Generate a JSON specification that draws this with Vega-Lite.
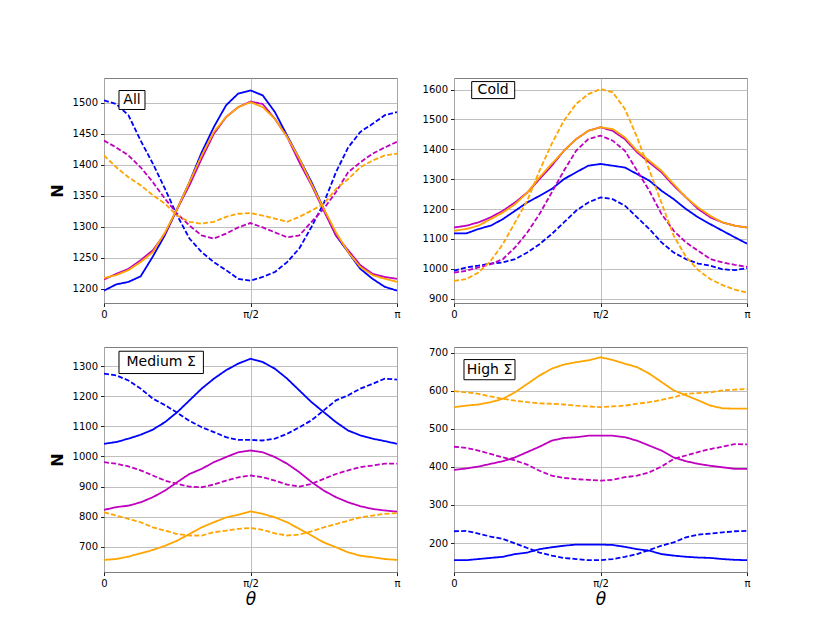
{
  "$schema": "https://vega.github.io/schema/vega-lite/v6.json",
  "padding": {"left": 48, "top": 77, "right": 5, "bottom": 5},
  "background": "white",
  "datasets": {
    "curves": [
      {"p": "All", "t": 0, "bs": 1197, "bd": 1504, "ms": 1215, "md": 1439, "os": 1217, "od": 1415},
      {"p": "All", "t": 0.1309, "bs": 1207, "bd": 1498, "ms": 1224, "md": 1428, "os": 1222, "od": 1396},
      {"p": "All", "t": 0.2618, "bs": 1211, "bd": 1480, "ms": 1232, "md": 1415, "os": 1230, "od": 1380},
      {"p": "All", "t": 0.3927, "bs": 1220, "bd": 1439, "ms": 1246, "md": 1396, "os": 1243, "od": 1367},
      {"p": "All", "t": 0.5236, "bs": 1252, "bd": 1402, "ms": 1262, "md": 1372, "os": 1259, "od": 1351},
      {"p": "All", "t": 0.6545, "bs": 1287, "bd": 1361, "ms": 1289, "md": 1345, "os": 1291, "od": 1337},
      {"p": "All", "t": 0.7854, "bs": 1329, "bd": 1318, "ms": 1329, "md": 1321, "os": 1329, "od": 1318},
      {"p": "All", "t": 0.9163, "bs": 1372, "bd": 1281, "ms": 1367, "md": 1302, "os": 1372, "od": 1308},
      {"p": "All", "t": 1.0472, "bs": 1420, "bd": 1259, "ms": 1410, "md": 1286, "os": 1415, "od": 1305},
      {"p": "All", "t": 1.1781, "bs": 1461, "bd": 1243, "ms": 1450, "md": 1281, "os": 1453, "od": 1308},
      {"p": "All", "t": 1.309, "bs": 1496, "bd": 1230, "ms": 1477, "md": 1289, "os": 1477, "od": 1316},
      {"p": "All", "t": 1.4399, "bs": 1515, "bd": 1216, "ms": 1493, "md": 1299, "os": 1493, "od": 1321},
      {"p": "All", "t": 1.5708, "bs": 1520, "bd": 1213, "ms": 1502, "md": 1306, "os": 1501, "od": 1322},
      {"p": "All", "t": 1.7017, "bs": 1512, "bd": 1219, "ms": 1498, "md": 1299, "os": 1493, "od": 1318},
      {"p": "All", "t": 1.8326, "bs": 1485, "bd": 1227, "ms": 1474, "md": 1291, "os": 1474, "od": 1313},
      {"p": "All", "t": 1.9635, "bs": 1447, "bd": 1243, "ms": 1445, "md": 1283, "os": 1445, "od": 1308},
      {"p": "All", "t": 2.0944, "bs": 1410, "bd": 1265, "ms": 1404, "md": 1286, "os": 1410, "od": 1316},
      {"p": "All", "t": 2.2253, "bs": 1372, "bd": 1300, "ms": 1367, "md": 1308, "os": 1369, "od": 1326},
      {"p": "All", "t": 2.3562, "bs": 1329, "bd": 1338, "ms": 1326, "md": 1329, "os": 1329, "od": 1337},
      {"p": "All", "t": 2.4871, "bs": 1286, "bd": 1388, "ms": 1286, "md": 1356, "os": 1291, "od": 1361},
      {"p": "All", "t": 2.618, "bs": 1259, "bd": 1428, "ms": 1262, "md": 1388, "os": 1259, "od": 1377},
      {"p": "All", "t": 2.7489, "bs": 1232, "bd": 1453, "ms": 1238, "md": 1404, "os": 1235, "od": 1396},
      {"p": "All", "t": 2.8798, "bs": 1216, "bd": 1466, "ms": 1224, "md": 1418, "os": 1222, "od": 1407},
      {"p": "All", "t": 3.0107, "bs": 1203, "bd": 1480, "ms": 1219, "md": 1428, "os": 1216, "od": 1415},
      {"p": "All", "t": 3.1416, "bs": 1197, "bd": 1485, "ms": 1216, "md": 1437, "os": 1211, "od": 1418},

      {"p": "Cold", "t": 0, "bs": 1118, "bd": 993, "ms": 1138, "md": 987, "os": 1127, "od": 959},
      {"p": "Cold", "t": 0.1309, "bs": 1118, "bd": 1004, "ms": 1144, "md": 993, "os": 1133, "od": 965},
      {"p": "Cold", "t": 0.2618, "bs": 1133, "bd": 1010, "ms": 1155, "md": 1004, "os": 1144, "od": 987},
      {"p": "Cold", "t": 0.3927, "bs": 1144, "bd": 1017, "ms": 1172, "md": 1015, "os": 1166, "od": 1026},
      {"p": "Cold", "t": 0.5236, "bs": 1166, "bd": 1021, "ms": 1194, "md": 1032, "os": 1188, "od": 1082},
      {"p": "Cold", "t": 0.6545, "bs": 1194, "bd": 1032, "ms": 1222, "md": 1071, "os": 1216, "od": 1155},
      {"p": "Cold", "t": 0.7854, "bs": 1222, "bd": 1054, "ms": 1255, "md": 1121, "os": 1255, "od": 1228},
      {"p": "Cold", "t": 0.9163, "bs": 1244, "bd": 1082, "ms": 1300, "md": 1183, "os": 1306, "od": 1328},
      {"p": "Cold", "t": 1.0472, "bs": 1267, "bd": 1116, "ms": 1345, "md": 1255, "os": 1351, "od": 1418},
      {"p": "Cold", "t": 1.1781, "bs": 1300, "bd": 1155, "ms": 1395, "md": 1328, "os": 1395, "od": 1496},
      {"p": "Cold", "t": 1.309, "bs": 1323, "bd": 1194, "ms": 1434, "md": 1395, "os": 1434, "od": 1552},
      {"p": "Cold", "t": 1.4399, "bs": 1345, "bd": 1222, "ms": 1462, "md": 1434, "os": 1462, "od": 1585},
      {"p": "Cold", "t": 1.5708, "bs": 1351, "bd": 1239, "ms": 1474, "md": 1446, "os": 1474, "od": 1602},
      {"p": "Cold", "t": 1.7017, "bs": 1345, "bd": 1233, "ms": 1462, "md": 1429, "os": 1468, "od": 1591},
      {"p": "Cold", "t": 1.8326, "bs": 1339, "bd": 1211, "ms": 1434, "md": 1395, "os": 1440, "od": 1535},
      {"p": "Cold", "t": 1.9635, "bs": 1317, "bd": 1172, "ms": 1390, "md": 1328, "os": 1395, "od": 1440},
      {"p": "Cold", "t": 2.0944, "bs": 1295, "bd": 1133, "ms": 1356, "md": 1261, "os": 1362, "od": 1330},
      {"p": "Cold", "t": 2.2253, "bs": 1261, "bd": 1088, "ms": 1323, "md": 1183, "os": 1328, "od": 1220},
      {"p": "Cold", "t": 2.3562, "bs": 1233, "bd": 1054, "ms": 1278, "md": 1127, "os": 1283, "od": 1110},
      {"p": "Cold", "t": 2.4871, "bs": 1200, "bd": 1032, "ms": 1239, "md": 1088, "os": 1239, "od": 1040},
      {"p": "Cold", "t": 2.618, "bs": 1172, "bd": 1017, "ms": 1200, "md": 1060, "os": 1205, "od": 995},
      {"p": "Cold", "t": 2.7489, "bs": 1149, "bd": 1010, "ms": 1172, "md": 1032, "os": 1177, "od": 965},
      {"p": "Cold", "t": 2.8798, "bs": 1127, "bd": 998, "ms": 1155, "md": 1021, "os": 1155, "od": 945},
      {"p": "Cold", "t": 3.0107, "bs": 1105, "bd": 995, "ms": 1144, "md": 1013, "os": 1144, "od": 930},
      {"p": "Cold", "t": 3.1416, "bs": 1084, "bd": 1002, "ms": 1138, "md": 1006, "os": 1138, "od": 920},

      {"p": "Medium", "t": 0, "bs": 1042, "bd": 1275, "ms": 823, "md": 981, "os": 657, "od": 815},
      {"p": "Medium", "t": 0.1309, "bs": 1048, "bd": 1269, "ms": 832, "md": 976, "os": 660, "od": 804},
      {"p": "Medium", "t": 0.2618, "bs": 1059, "bd": 1252, "ms": 837, "md": 967, "os": 668, "od": 793},
      {"p": "Medium", "t": 0.3927, "bs": 1072, "bd": 1225, "ms": 848, "md": 954, "os": 679, "od": 782},
      {"p": "Medium", "t": 0.5236, "bs": 1089, "bd": 1192, "ms": 865, "md": 937, "os": 690, "od": 765},
      {"p": "Medium", "t": 0.6545, "bs": 1114, "bd": 1170, "ms": 887, "md": 920, "os": 704, "od": 754},
      {"p": "Medium", "t": 0.7854, "bs": 1147, "bd": 1145, "ms": 915, "md": 909, "os": 721, "od": 743},
      {"p": "Medium", "t": 0.9163, "bs": 1186, "bd": 1118, "ms": 942, "md": 900, "os": 743, "od": 738},
      {"p": "Medium", "t": 1.0472, "bs": 1225, "bd": 1097, "ms": 959, "md": 898, "os": 765, "od": 738},
      {"p": "Medium", "t": 1.1781, "bs": 1258, "bd": 1081, "ms": 981, "md": 907, "os": 782, "od": 749},
      {"p": "Medium", "t": 1.309, "bs": 1286, "bd": 1064, "ms": 998, "md": 920, "os": 798, "od": 754},
      {"p": "Medium", "t": 1.4399, "bs": 1308, "bd": 1055, "ms": 1014, "md": 931, "os": 807, "od": 760},
      {"p": "Medium", "t": 1.5708, "bs": 1324, "bd": 1055, "ms": 1020, "md": 937, "os": 818, "od": 763},
      {"p": "Medium", "t": 1.7017, "bs": 1313, "bd": 1053, "ms": 1014, "md": 931, "os": 810, "od": 757},
      {"p": "Medium", "t": 1.8326, "bs": 1291, "bd": 1059, "ms": 998, "md": 920, "os": 798, "od": 745},
      {"p": "Medium", "t": 1.9635, "bs": 1258, "bd": 1075, "ms": 976, "md": 907, "os": 782, "od": 738},
      {"p": "Medium", "t": 2.0944, "bs": 1219, "bd": 1097, "ms": 948, "md": 900, "os": 760, "od": 741},
      {"p": "Medium", "t": 2.2253, "bs": 1180, "bd": 1120, "ms": 915, "md": 909, "os": 738, "od": 752},
      {"p": "Medium", "t": 2.3562, "bs": 1147, "bd": 1153, "ms": 887, "md": 926, "os": 715, "od": 765},
      {"p": "Medium", "t": 2.4871, "bs": 1114, "bd": 1186, "ms": 865, "md": 942, "os": 699, "od": 776},
      {"p": "Medium", "t": 2.618, "bs": 1086, "bd": 1203, "ms": 848, "md": 954, "os": 682, "od": 787},
      {"p": "Medium", "t": 2.7489, "bs": 1070, "bd": 1225, "ms": 835, "md": 965, "os": 671, "od": 798},
      {"p": "Medium", "t": 2.8798, "bs": 1059, "bd": 1241, "ms": 826, "md": 970, "os": 666, "od": 804},
      {"p": "Medium", "t": 3.0107, "bs": 1051, "bd": 1258, "ms": 821, "md": 976, "os": 660, "od": 810},
      {"p": "Medium", "t": 3.1416, "bs": 1042, "bd": 1255, "ms": 817, "md": 976, "os": 657, "od": 812},

      {"p": "High", "t": 0, "bs": 155, "bd": 231, "ms": 392, "md": 453, "os": 557, "od": 599},
      {"p": "High", "t": 0.1309, "bs": 155, "bd": 232, "ms": 396, "md": 450, "os": 561, "od": 596},
      {"p": "High", "t": 0.2618, "bs": 158, "bd": 225, "ms": 401, "md": 443, "os": 564, "od": 592},
      {"p": "High", "t": 0.3927, "bs": 161, "bd": 217, "ms": 408, "md": 434, "os": 570, "od": 585},
      {"p": "High", "t": 0.5236, "bs": 164, "bd": 211, "ms": 415, "md": 425, "os": 579, "od": 579},
      {"p": "High", "t": 0.6545, "bs": 171, "bd": 199, "ms": 425, "md": 417, "os": 596, "od": 574},
      {"p": "High", "t": 0.7854, "bs": 175, "bd": 187, "ms": 439, "md": 406, "os": 618, "od": 570},
      {"p": "High", "t": 0.9163, "bs": 184, "bd": 175, "ms": 453, "md": 390, "os": 640, "od": 567},
      {"p": "High", "t": 1.0472, "bs": 189, "bd": 167, "ms": 469, "md": 377, "os": 658, "od": 566},
      {"p": "High", "t": 1.1781, "bs": 193, "bd": 161, "ms": 476, "md": 371, "os": 669, "od": 564},
      {"p": "High", "t": 1.309, "bs": 196, "bd": 158, "ms": 478, "md": 368, "os": 675, "od": 561},
      {"p": "High", "t": 1.4399, "bs": 196, "bd": 155, "ms": 482, "md": 366, "os": 680, "od": 559},
      {"p": "High", "t": 1.5708, "bs": 196, "bd": 155, "ms": 482, "md": 364, "os": 688, "od": 557},
      {"p": "High", "t": 1.7017, "bs": 195, "bd": 158, "ms": 482, "md": 366, "os": 681, "od": 559},
      {"p": "High", "t": 1.8326, "bs": 190, "bd": 164, "ms": 478, "md": 373, "os": 671, "od": 561},
      {"p": "High", "t": 1.9635, "bs": 184, "bd": 171, "ms": 469, "md": 377, "os": 662, "od": 566},
      {"p": "High", "t": 2.0944, "bs": 180, "bd": 182, "ms": 456, "md": 386, "os": 645, "od": 570},
      {"p": "High", "t": 2.2253, "bs": 171, "bd": 193, "ms": 443, "md": 401, "os": 623, "od": 576},
      {"p": "High", "t": 2.3562, "bs": 167, "bd": 202, "ms": 425, "md": 421, "os": 601, "od": 583},
      {"p": "High", "t": 2.4871, "bs": 164, "bd": 215, "ms": 415, "md": 430, "os": 588, "od": 592},
      {"p": "High", "t": 2.618, "bs": 162, "bd": 222, "ms": 408, "md": 439, "os": 575, "od": 594},
      {"p": "High", "t": 2.7489, "bs": 161, "bd": 225, "ms": 403, "md": 447, "os": 561, "od": 596},
      {"p": "High", "t": 2.8798, "bs": 158, "bd": 228, "ms": 399, "md": 453, "os": 554, "od": 601},
      {"p": "High", "t": 3.0107, "bs": 156, "bd": 231, "ms": 395, "md": 460, "os": 553, "od": 603},
      {"p": "High", "t": 3.1416, "bs": 155, "bd": 232, "ms": 395, "md": 459, "os": 553, "od": 605}
    ]
  },
  "columns": 2,
  "bounds": "flush",
  "spacing": {"row": 44, "column": 57},
  "concat": [
    {
      "width": 293,
      "height": 225,
      "layer": [
        {
          "data": {"name": "curves"},
          "transform": [
            {"filter": "datum.p === 'All'"},
            {"fold": ["bs", "bd", "ms", "md", "os", "od"], "as": ["series", "n"]}
          ],
          "mark": {"type": "line", "strokeWidth": 1.8, "clip": true},
          "encoding": {
            "x": {"field": "t", "type": "quantitative", "scale": {"domain": [0, 3.14159], "nice": false},
              "axis": {"values": [0, 1.5708, 3.14159], "labelExpr": "datum.value < 0.1 ? '0' : datum.value < 2 ? 'π/2' : 'π'", "title": null}},
            "y": {"field": "n", "type": "quantitative", "scale": {"domain": [1177, 1540], "nice": false, "zero": false},
              "axis": {"values": [1200, 1250, 1300, 1350, 1400, 1450, 1500], "tickCount": 20, "format": "d", "title": "N"}},
            "color": {"field": "series", "type": "nominal", "legend": null,
              "scale": {"domain": ["bs", "bd", "ms", "md", "os", "od"], "range": ["#0000ff", "#0000ff", "#bf00bf", "#bf00bf", "#ffa500", "#ffa500"]}},
            "strokeDash": {"field": "series", "type": "nominal", "legend": null,
              "scale": {"domain": ["bs", "bd", "ms", "md", "os", "od"], "range": [[1, 0], [5, 2.2], [1, 0], [5, 2.2], [1, 0], [5, 2.2]]}}
          }
        },
        {
          "data": {"values": [{}]},
          "mark": {"type": "rect", "fill": "white", "stroke": "black", "strokeWidth": 1},
          "encoding": {"x": {"datum": 0.1608}, "x2": {"datum": 0.4396}, "y": {"datum": 1519.8}, "y2": {"datum": 1489.2}}
        },
        {
          "data": {"values": [{}]},
          "mark": {"type": "text", "text": "All", "fontSize": 14, "font": "DejaVu Sans", "align": "center", "baseline": "middle"},
          "encoding": {"x": {"datum": 0.30}, "y": {"datum": 1504.5}}
        }
      ]
    },
    {
      "width": 293,
      "height": 225,
      "layer": [
        {
          "data": {"name": "curves"},
          "transform": [
            {"filter": "datum.p === 'Cold'"},
            {"fold": ["bs", "bd", "ms", "md", "os", "od"], "as": ["series", "n"]}
          ],
          "mark": {"type": "line", "strokeWidth": 1.8, "clip": true},
          "encoding": {
            "x": {"field": "t", "type": "quantitative", "scale": {"domain": [0, 3.14159], "nice": false},
              "axis": {"values": [0, 1.5708, 3.14159], "labelExpr": "datum.value < 0.1 ? '0' : datum.value < 2 ? 'π/2' : 'π'", "title": null}},
            "y": {"field": "n", "type": "quantitative", "scale": {"domain": [885, 1639], "nice": false, "zero": false},
              "axis": {"values": [900, 1000, 1100, 1200, 1300, 1400, 1500, 1600], "tickCount": 20, "format": "d", "title": null}},
            "color": {"field": "series", "type": "nominal", "legend": null,
              "scale": {"domain": ["bs", "bd", "ms", "md", "os", "od"], "range": ["#0000ff", "#0000ff", "#bf00bf", "#bf00bf", "#ffa500", "#ffa500"]}},
            "strokeDash": {"field": "series", "type": "nominal", "legend": null,
              "scale": {"domain": ["bs", "bd", "ms", "md", "os", "od"], "range": [[1, 0], [5, 2.2], [1, 0], [5, 2.2], [1, 0], [5, 2.2]]}}
          }
        },
        {
          "data": {"values": [{}]},
          "mark": {"type": "rect", "fill": "white", "stroke": "black", "strokeWidth": 1},
          "encoding": {"x": {"datum": 0.1898}, "x2": {"datum": 0.6508}, "y": {"datum": 1627}, "y2": {"datum": 1570}}
        },
        {
          "data": {"values": [{}]},
          "mark": {"type": "text", "text": "Cold", "fontSize": 14, "font": "DejaVu Sans", "align": "center", "baseline": "middle"},
          "encoding": {"x": {"datum": 0.42}, "y": {"datum": 1598}}
        }
      ]
    },
    {
      "width": 293,
      "height": 225,
      "layer": [
        {
          "data": {"name": "curves"},
          "transform": [
            {"filter": "datum.p === 'Medium'"},
            {"fold": ["bs", "bd", "ms", "md", "os", "od"], "as": ["series", "n"]}
          ],
          "mark": {"type": "line", "strokeWidth": 1.8, "clip": true},
          "encoding": {
            "x": {"field": "t", "type": "quantitative", "scale": {"domain": [0, 3.14159], "nice": false},
              "axis": {"values": [0, 1.5708, 3.14159], "labelExpr": "datum.value < 0.1 ? '0' : datum.value < 2 ? 'π/2' : 'π'", "title": "θ"}},
            "y": {"field": "n", "type": "quantitative", "scale": {"domain": [617, 1363], "nice": false, "zero": false},
              "axis": {"values": [700, 800, 900, 1000, 1100, 1200, 1300], "tickCount": 20, "format": "d", "title": "N"}},
            "color": {"field": "series", "type": "nominal", "legend": null,
              "scale": {"domain": ["bs", "bd", "ms", "md", "os", "od"], "range": ["#0000ff", "#0000ff", "#bf00bf", "#bf00bf", "#ffa500", "#ffa500"]}},
            "strokeDash": {"field": "series", "type": "nominal", "legend": null,
              "scale": {"domain": ["bs", "bd", "ms", "md", "os", "od"], "range": [[1, 0], [5, 2.2], [1, 0], [5, 2.2], [1, 0], [5, 2.2]]}}
          }
        },
        {
          "data": {"values": [{}]},
          "mark": {"type": "rect", "fill": "white", "stroke": "black", "strokeWidth": 1},
          "encoding": {"x": {"datum": 0.1608}, "x2": {"datum": 1.0658}, "y": {"datum": 1349}, "y2": {"datum": 1275}}
        },
        {
          "data": {"values": [{}]},
          "mark": {"type": "text", "text": "Medium Σ", "fontSize": 14, "font": "DejaVu Sans", "align": "center", "baseline": "middle"},
          "encoding": {"x": {"datum": 0.613}, "y": {"datum": 1312}}
        }
      ]
    },
    {
      "width": 293,
      "height": 225,
      "layer": [
        {
          "data": {"name": "curves"},
          "transform": [
            {"filter": "datum.p === 'High'"},
            {"fold": ["bs", "bd", "ms", "md", "os", "od"], "as": ["series", "n"]}
          ],
          "mark": {"type": "line", "strokeWidth": 1.8, "clip": true},
          "encoding": {
            "x": {"field": "t", "type": "quantitative", "scale": {"domain": [0, 3.14159], "nice": false},
              "axis": {"values": [0, 1.5708, 3.14159], "labelExpr": "datum.value < 0.1 ? '0' : datum.value < 2 ? 'π/2' : 'π'", "title": "θ"}},
            "y": {"field": "n", "type": "quantitative", "scale": {"domain": [124, 715], "nice": false, "zero": false},
              "axis": {"values": [200, 300, 400, 500, 600, 700], "tickCount": 20, "format": "d", "title": null}},
            "color": {"field": "series", "type": "nominal", "legend": null,
              "scale": {"domain": ["bs", "bd", "ms", "md", "os", "od"], "range": ["#0000ff", "#0000ff", "#bf00bf", "#bf00bf", "#ffa500", "#ffa500"]}},
            "strokeDash": {"field": "series", "type": "nominal", "legend": null,
              "scale": {"domain": ["bs", "bd", "ms", "md", "os", "od"], "range": [[1, 0], [5, 2.2], [1, 0], [5, 2.2], [1, 0], [5, 2.2]]}}
          }
        },
        {
          "data": {"values": [{}]},
          "mark": {"type": "rect", "fill": "white", "stroke": "black", "strokeWidth": 1},
          "encoding": {"x": {"datum": 0.1072}, "x2": {"datum": 0.654}, "y": {"datum": 682}, "y2": {"datum": 629}}
        },
        {
          "data": {"values": [{}]},
          "mark": {"type": "text", "text": "High Σ", "fontSize": 14, "font": "DejaVu Sans", "align": "center", "baseline": "middle"},
          "encoding": {"x": {"datum": 0.381}, "y": {"datum": 655}}
        }
      ]
    }
  ],
  "config": {
    "font": "DejaVu Sans",
    "view": {"stroke": "#808080", "strokeWidth": 1},
    "axis": {
      "domain": false,
      "labelFont": "DejaVu Sans",
      "labelFontSize": 10,
      "labelColor": "#000000",
      "labelFlush": false,
      "labelPadding": 3,
      "tickSize": 3.5,
      "tickColor": "#222222",
      "gridColor": "#b0b0b0",
      "gridWidth": 0.8,
      "titleFont": "DejaVu Sans",
      "titleColor": "#000000"
    },
    "axisY": {"titleFontSize": 16, "titleFontWeight": "bold", "titlePadding": 7},
    "axisX": {"titleFontSize": 17, "titleFontWeight": "normal", "titleFontStyle": "italic", "titlePadding": 3}
  }
}
